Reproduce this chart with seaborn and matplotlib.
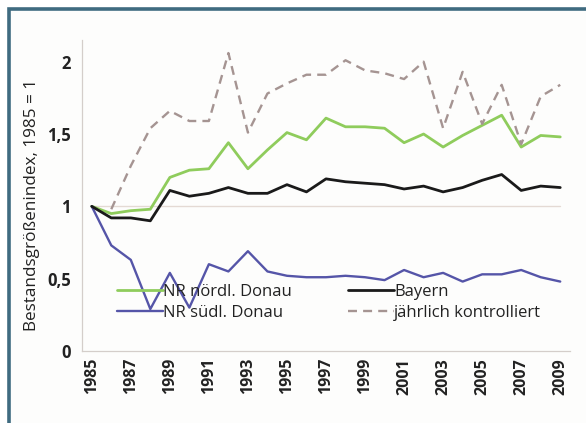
import numpy as np
import pandas as pd
import matplotlib
matplotlib.use("Agg")
import matplotlib.pyplot as plt
from matplotlib.patches import Rectangle
from matplotlib.lines import Line2D
import seaborn as sns

years = list(range(1985, 2010))

nr_noerdl = [1.00, 0.95, 0.97, 0.98, 1.20, 1.25, 1.26, 1.44, 1.26, 1.39, 1.51, 1.46, 1.61,
             1.55, 1.55, 1.54, 1.44, 1.50, 1.41, 1.49, 1.56, 1.63, 1.41, 1.49, 1.48]
nr_suedl = [1.00, 0.73, 0.63, 0.29, 0.54, 0.30, 0.60, 0.55, 0.69, 0.55, 0.52, 0.51, 0.51,
            0.52, 0.51, 0.49, 0.56, 0.51, 0.54, 0.48, 0.53, 0.53, 0.56, 0.51, 0.48]
bayern = [1.00, 0.92, 0.92, 0.90, 1.11, 1.07, 1.09, 1.13, 1.09, 1.09, 1.15, 1.10, 1.19,
          1.17, 1.16, 1.15, 1.12, 1.14, 1.10, 1.13, 1.18, 1.22, 1.11, 1.14, 1.13]
kontrolliert = [np.nan, 0.98, 1.28, 1.54, 1.66, 1.59, 1.59, 2.06, 1.51, 1.78, 1.85, 1.91, 1.91,
                2.01, 1.94, 1.92, 1.88, 2.00, 1.54, 1.93, 1.57, 1.84, 1.43, 1.76, 1.84]

series_names = ["NR nördl. Donau", "NR südl. Donau", "Bayern", "jährlich kontrolliert"]
series_values = [nr_noerdl, nr_suedl, bayern, kontrolliert]

y_ticks = [0, 0.5, 1, 1.5, 2]
y_ticklabels = ["0", "0,5", "1", "1,5", "2"]
x_ticks = list(range(1985, 2010, 2))

colors = {
    "NR nördl. Donau": "#8fcc5c",
    "NR südl. Donau": "#5555a8",
    "Bayern": "#1a1a1a",
    "jährlich kontrolliert": "#a59492",
}
widths = {
    "NR nördl. Donau": 2.0,
    "NR südl. Donau": 1.7,
    "Bayern": 2.0,
    "jährlich kontrolliert": 1.7,
}
dash_styles = {
    "NR nördl. Donau": "",
    "NR südl. Donau": "",
    "Bayern": "",
    "jährlich kontrolliert": (3.8, 2.6),
}

df = pd.DataFrame({
    "Jahr": np.tile(years, len(series_names)),
    "Index": np.concatenate(series_values),
    "Reihe": np.repeat(series_names, len(years)),
})

sns.set_style("white")
plt.rcParams["font.family"] = ["Open Sans", "DejaVu Sans"]

W, H = 586, 423
fig = plt.figure(figsize=(W / 100, H / 100), dpi=100)
fig.patch.set_facecolor("white")

# framed panel behind the axes
fig.patches.append(Rectangle((9 / W, -0.05), 1.2, 1 - 9 / H + 0.05, transform=fig.transFigure,
                             facecolor="#fdfdfc", edgecolor="#3f6b80", linewidth=2.6, zorder=-5))

ax = fig.add_axes([82 / W, 1 - 351 / H, (570 - 82) / W, (351 - 40) / H])
ax.set_zorder(2)
ax.set_facecolor("none")

# reference line at index 1
ax.plot([years[0], years[-1]], [1, 1], color="#e4dad4", lw=1.0, zorder=1)

for name in series_names:
    sub = df[df["Reihe"] == name]
    sns.lineplot(data=sub, x="Jahr", y="Index", ax=ax, color=colors[name],
                 lw=widths[name], legend=False, zorder=3,
                 linestyle="--" if dash_styles[name] else "-")
    if dash_styles[name]:
        ax.lines[-1].set_dashes(dash_styles[name])

ax.set_xlim(1984.5, 2009.5)
ax.set_ylim(0, 2.15)
ax.set_xlabel("")
ax.set_ylabel("Bestandsgrößenindex, 1985 = 1", fontsize=12.3, color="#222222")
ax.yaxis.set_label_coords(-0.086, 0.47)

ax.set_yticks(y_ticks)
ax.set_yticklabels(y_ticklabels, fontsize=12, fontweight="bold", color="#222222")
ax.set_xticks(x_ticks)
ax.set_xticklabels([str(y) for y in x_ticks], rotation=90, fontsize=11.5,
                   fontweight="bold", color="#222222")
ax.set_xticks(np.arange(1984.5, 2010, 1), minor=True)
ax.tick_params(axis="x", which="major", length=0, pad=5)
ax.tick_params(axis="x", which="minor", length=5, direction="inout", color="#cfc8c4", width=0.8)
ax.tick_params(axis="y", which="major", length=4, direction="out", color="#cfc8c4", width=0.8, pad=4)

for side in ["top", "right"]:
    ax.spines[side].set_visible(False)
for side in ["left", "bottom"]:
    ax.spines[side].set_color("#d4ceca")
    ax.spines[side].set_linewidth(0.9)

handles = []
for name in series_names:
    h = Line2D([], [], color=colors[name], lw=widths[name])
    if dash_styles[name]:
        h.set_linestyle("--")
        h.set_dashes(dash_styles[name])
    handles.append(h)

leg = ax.legend(handles, series_names, ncol=2, frameon=False, fontsize=12,
                handlelength=2.75, handletextpad=0.0, columnspacing=3.4,
                labelspacing=0.3, borderpad=0, borderaxespad=0,
                loc="upper left", bbox_to_anchor=((117 - 82) / (570 - 82), (351 - 284) / (351 - 40)))
for t in leg.get_texts():
    t.set_color("#222222")

fig.savefig("out.png", dpi=100)
